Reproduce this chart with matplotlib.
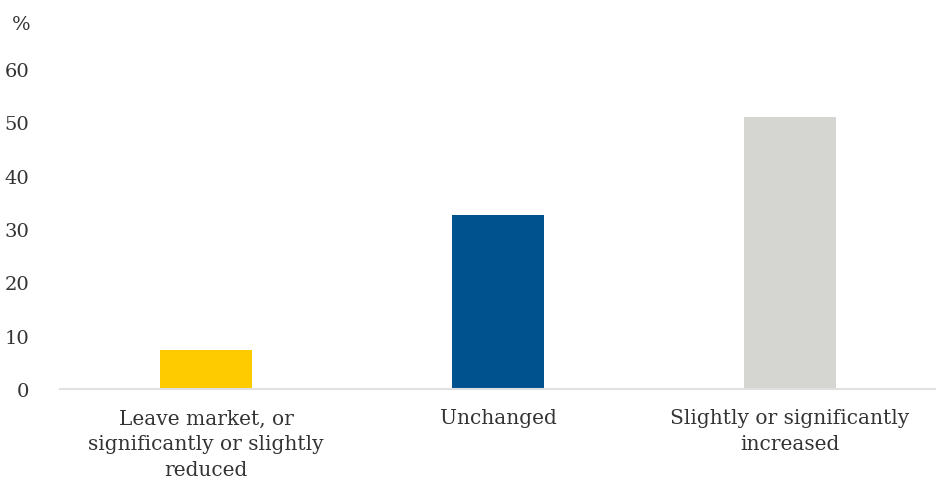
import matplotlib.pyplot as plt

# Data
categories = ["Leave market, or\nsignificantly or slightly\nreduced", "Unchanged", "Slightly or significantly\nincreased"]
values = [7.3, 32.6, 51.0]
colors = ["#FECB00", "#00528F", "#D5D6D1"]
y_ticks = [0, 10, 20, 30, 40, 50, 60]

plt.rcParams["font.family"] = ["DejaVu Serif"]
text_color = "#333333"

fig = plt.figure(figsize=(9.36, 4.85), dpi=100)
ax = fig.add_axes([60 / 936, 95 / 485, 876 / 936, 320 / 485])

x = range(len(categories))
ax.bar(x, values, width=0.315, color=colors, zorder=2)

ax.set_xlim(-0.5, 2.5)
ax.set_ylim(0, 60)
ax.set_yticks(y_ticks)
ax.set_yticklabels([str(t) for t in y_ticks], fontsize=14, color=text_color)
ax.set_xticks(list(x))
ax.set_xticklabels(categories, fontsize=14.5, color=text_color, linespacing=1.45, va="top")

ax.tick_params(axis="y", length=0, pad=22)
ax.tick_params(axis="x", length=0, pad=14)

for side in ["top", "right", "left"]:
    ax.spines[side].set_visible(False)
ax.spines["bottom"].set_color("#E0E0E0")
ax.spines["bottom"].set_linewidth(1.5)

fig.text(12 / 936, 1 - 25 / 485, "%", fontsize=14, color=text_color, va="center", ha="left")

plt.savefig("out.png", dpi=100)
